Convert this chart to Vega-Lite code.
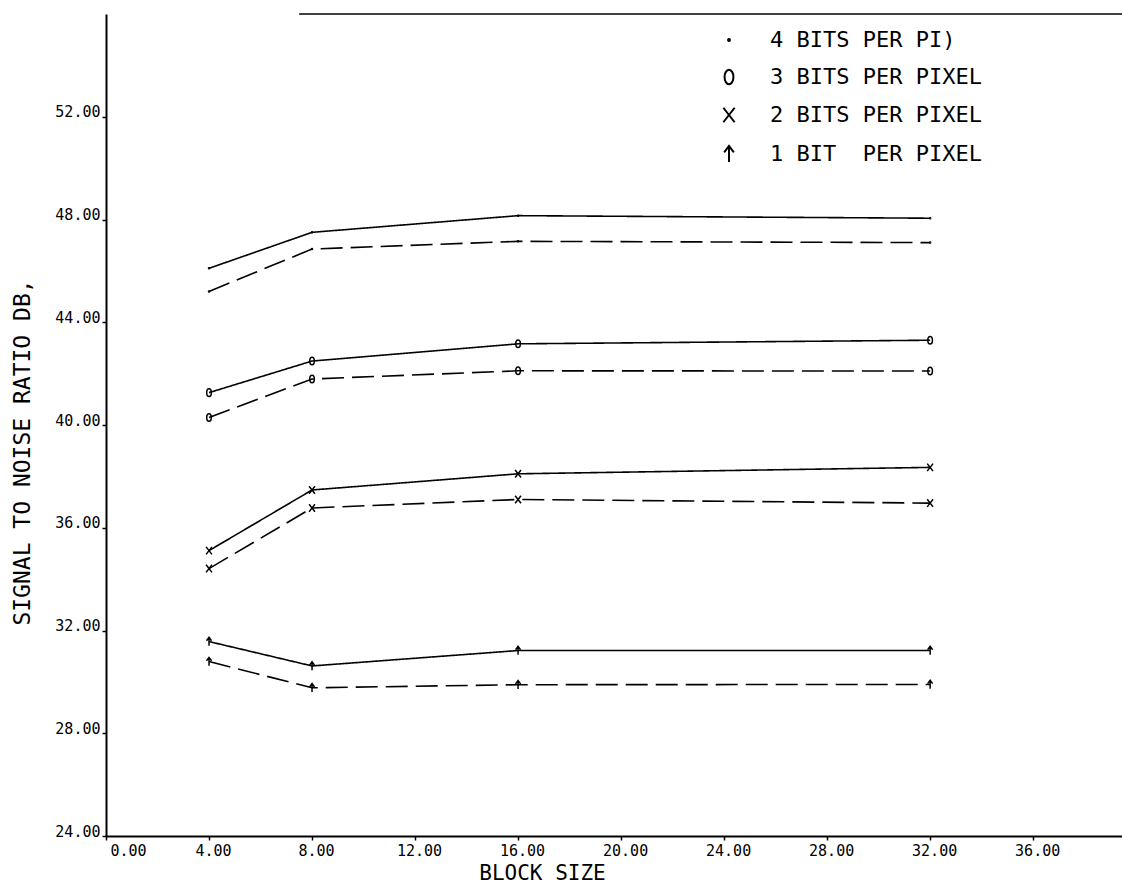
{
  "$schema": "https://vega.github.io/schema/vega-lite/v6.json",
  "width": 1016,
  "height": 822,
  "autosize": {"type": "none"},
  "padding": {"left": 106, "top": 14, "right": 0, "bottom": 48},
  "background": "white",
  "config": {
    "view": {"stroke": null},
    "axis": {
      "labelFont": "DejaVu Sans Mono",
      "labelFontSize": 15,
      "labelColor": "black",
      "titleFont": "DejaVu Sans Mono",
      "titleFontWeight": "normal",
      "titleColor": "black",
      "domainColor": "black",
      "domainWidth": 2,
      "tickColor": "black",
      "tickWidth": 1.5,
      "tickSize": 4,
      "grid": false
    }
  },
  "datasets": {
    "curves": [
      {"block": 4, "snr": 46.1, "bits": "4", "series": "4-solid", "method": "solid"},
      {"block": 8, "snr": 47.5, "bits": "4", "series": "4-solid", "method": "solid"},
      {"block": 16, "snr": 48.15, "bits": "4", "series": "4-solid", "method": "solid"},
      {"block": 32, "snr": 48.05, "bits": "4", "series": "4-solid", "method": "solid"},
      {"block": 4, "snr": 45.2, "bits": "4", "series": "4-dashed", "method": "dashed"},
      {"block": 8, "snr": 46.85, "bits": "4", "series": "4-dashed", "method": "dashed"},
      {"block": 16, "snr": 47.15, "bits": "4", "series": "4-dashed", "method": "dashed"},
      {"block": 32, "snr": 47.1, "bits": "4", "series": "4-dashed", "method": "dashed"},
      {"block": 4, "snr": 41.26, "bits": "3", "series": "3-solid", "method": "solid"},
      {"block": 8, "snr": 42.49, "bits": "3", "series": "3-solid", "method": "solid"},
      {"block": 16, "snr": 43.16, "bits": "3", "series": "3-solid", "method": "solid"},
      {"block": 32, "snr": 43.3, "bits": "3", "series": "3-solid", "method": "solid"},
      {"block": 4, "snr": 40.29, "bits": "3", "series": "3-dashed", "method": "dashed"},
      {"block": 8, "snr": 41.79, "bits": "3", "series": "3-dashed", "method": "dashed"},
      {"block": 16, "snr": 42.11, "bits": "3", "series": "3-dashed", "method": "dashed"},
      {"block": 32, "snr": 42.1, "bits": "3", "series": "3-dashed", "method": "dashed"},
      {"block": 4, "snr": 35.11, "bits": "2", "series": "2-solid", "method": "solid"},
      {"block": 8, "snr": 37.47, "bits": "2", "series": "2-solid", "method": "solid"},
      {"block": 16, "snr": 38.1, "bits": "2", "series": "2-solid", "method": "solid"},
      {"block": 32, "snr": 38.35, "bits": "2", "series": "2-solid", "method": "solid"},
      {"block": 4, "snr": 34.41, "bits": "2", "series": "2-dashed", "method": "dashed"},
      {"block": 8, "snr": 36.77, "bits": "2", "series": "2-dashed", "method": "dashed"},
      {"block": 16, "snr": 37.1, "bits": "2", "series": "2-dashed", "method": "dashed"},
      {"block": 32, "snr": 36.96, "bits": "2", "series": "2-dashed", "method": "dashed"},
      {"block": 4, "snr": 31.57, "bits": "1", "series": "1-solid", "method": "solid"},
      {"block": 8, "snr": 30.62, "bits": "1", "series": "1-solid", "method": "solid"},
      {"block": 16, "snr": 31.22, "bits": "1", "series": "1-solid", "method": "solid"},
      {"block": 32, "snr": 31.22, "bits": "1", "series": "1-solid", "method": "solid"},
      {"block": 4, "snr": 30.79, "bits": "1", "series": "1-dashed", "method": "dashed"},
      {"block": 8, "snr": 29.77, "bits": "1", "series": "1-dashed", "method": "dashed"},
      {"block": 16, "snr": 29.89, "bits": "1", "series": "1-dashed", "method": "dashed"},
      {"block": 32, "snr": 29.9, "bits": "1", "series": "1-dashed", "method": "dashed"}
    ],
    "frame": [
      {"x1": 7.5, "x2": 39.45, "y": 56}
    ]
  },
  "layer": [
    {
      "data": {"name": "frame"},
      "mark": {"type": "rule", "color": "black", "strokeWidth": 1.5},
      "encoding": {
        "x": {"field": "x1", "type": "quantitative", "scale": {"domain": [0, 39.45], "nice": false, "zero": false}},
        "x2": {"field": "x2"},
        "y": {"field": "y", "type": "quantitative", "scale": {"domain": [24, 56], "nice": false, "zero": false}}
      }
    },
    {
      "data": {"name": "curves"},
      "mark": {"type": "line", "color": "black", "strokeWidth": 1.6},
      "encoding": {
        "x": {
          "field": "block", "type": "quantitative",
          "scale": {"domain": [0, 39.45], "nice": false, "zero": false},
          "axis": {
            "values": [0, 4, 8, 12, 16, 20, 24, 28, 32, 36],
            "format": ".2f",
            "labelPadding": 3,
            "labelOffset": 4,
            "title": "BLOCK SIZE",
            "titleFontSize": 21,
            "titleX": 436,
            "titleY": 43,
            "titleAlign": "center",
            "titleBaseline": "alphabetic"
          }
        },
        "y": {
          "field": "snr", "type": "quantitative",
          "scale": {"domain": [24, 56], "nice": false, "zero": false},
          "axis": {
            "values": [24, 28, 32, 36, 40, 44, 48, 52],
            "format": ".2f",
            "labelPadding": 2,
            "labelBaseline": "alphabetic",
            "title": "SIGNAL TO NOISE RATIO DB,",
            "titleFontSize": 23,
            "titleAngle": -90,
            "titleX": -84,
            "titleY": 438,
            "titleAlign": "center",
            "titleBaseline": "middle"
          }
        },
        "detail": {"field": "series"},
        "strokeDash": {
          "field": "method", "type": "nominal",
          "scale": {"domain": ["solid", "dashed"], "range": [[1, 0], [22, 8]]},
          "legend": null
        }
      }
    },
    {
      "data": {"name": "curves"},
      "mark": {"type": "point", "filled": false, "color": "black", "strokeWidth": 1.5, "size": 70, "opacity": 1},
      "encoding": {
        "x": {"field": "block", "type": "quantitative"},
        "y": {"field": "snr", "type": "quantitative"},
        "shape": {
          "field": "bits", "type": "nominal",
          "scale": {
            "domain": ["4", "3", "2", "1"],
            "range": [
              "M-0.12,0A0.12,0.12 0 1,0 0.12,0A0.12,0.12 0 1,0 -0.12,0Z",
              "M-0.55,0A0.55,0.9 0 1,0 0.55,0A0.55,0.9 0 1,0 -0.55,0Z",
              "M-0.7,-0.9L0.7,0.9M-0.7,0.9L0.7,-0.9",
              "M0,1L0,-0.9M-0.6,-0.2L0,-1L0.6,-0.2"
            ]
          },
          "legend": {
            "orient": "none",
            "legendX": 612,
            "legendY": 15,
            "title": null,
            "padding": 0,
            "symbolSize": 260,
            "symbolStrokeWidth": 2,
            "symbolStrokeColor": "black",
            "labelFont": "DejaVu Sans Mono",
            "labelFontSize": 22,
            "labelColor": "black",
            "labelLimit": 400,
            "labelOffset": 30,
            "rowPadding": 14,
            "labelExpr": "datum.value == '1' ? '1 BIT\u00a0 PER PIXEL' : (datum.value == '4' ? '4 BITS PER PI)' : datum.value + ' BITS PER PIXEL')"
          }
        }
      }
    }
  ]
}
